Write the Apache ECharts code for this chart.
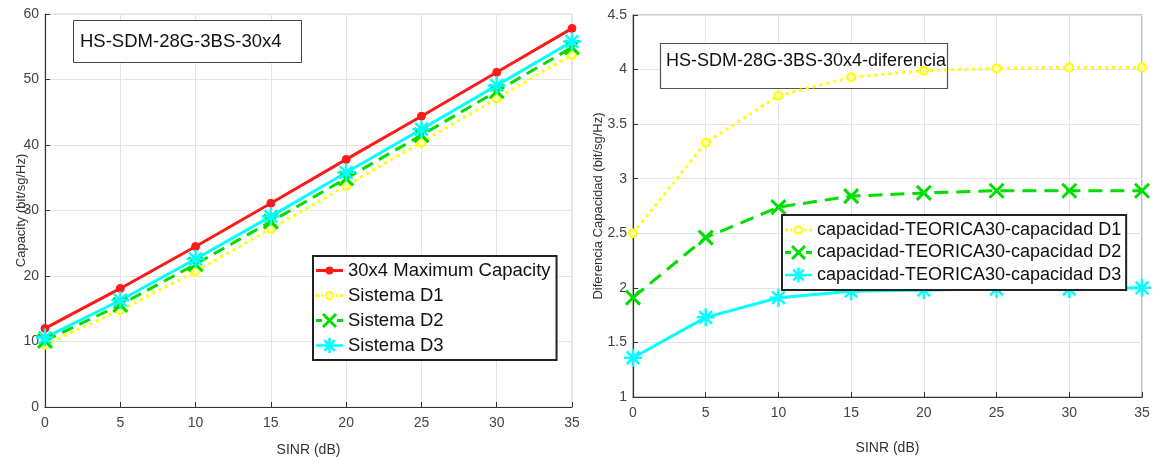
<!DOCTYPE html>
<html>
<head>
<meta charset="utf-8">
<script src="https://cdn.jsdelivr.net/npm/echarts@6/dist/echarts.min.js"></script>
<style>
html,body{margin:0;padding:0;background:#fff;}
#c{width:1155px;height:457px;}
</style>
</head>
<body>
<div id="c"></div>
<script>
// ---- data ----
var sinr = [0, 5, 10, 15, 20, 25, 30, 35];
var capMax = [12.0, 18.1, 24.5, 31.1, 37.8, 44.4, 51.1, 57.8];
var capD1 = [9.5, 14.8, 20.7, 27.2, 33.8, 40.4, 47.1, 53.8];
var capD2 = [10.1, 15.6, 21.8, 28.3, 34.9, 41.5, 48.2, 54.9];
var capD3 = [10.6, 16.3, 22.6, 29.1, 35.8, 42.4, 49.1, 55.8];
var difD1 = [2.50, 3.33, 3.76, 3.93, 3.99, 4.01, 4.02, 4.02];
var difD2 = [1.91, 2.46, 2.74, 2.84, 2.87, 2.89, 2.89, 2.89];
var difD3 = [1.36, 1.73, 1.91, 1.97, 1.98, 1.99, 1.99, 2.00];
var leftNames = ['30x4 Maximum Capacity', 'Sistema D1', 'Sistema D2', 'Sistema D3'];
var rightNames = ['capacidad-TEORICA30-capacidad D1', 'capacidad-TEORICA30-capacidad D2', 'capacidad-TEORICA30-capacidad D3'];
var leftTitle = 'HS-SDM-28G-3BS-30x4';
var rightTitle = 'HS-SDM-28G-3BS-30x4-diferencia';
var xName = 'SINR (dB)';
var leftYName = 'Capacity (bit/sg/Hz)';
var rightYName = 'Diferencia Capacidad (bit/sg/Hz)';

function pairs(ys) { return sinr.map(function (x, i) { return [x, ys[i]]; }); }

var FONT = '"Liberation Sans", Arial, sans-serif';
var RED = '#ff1a1a', YEL = '#ffff00', GRN = '#00dd00', CYA = '#00ffff';
var XSYM = 'path://M0,0L10,10M10,0L0,10';
var ASYM = 'path://M5,0L5,10M0,5L10,5M1.5,1.5L8.5,8.5M8.5,1.5L1.5,8.5';

// legend icons (line + marker), drawn as filled shapes in a 27x18 box
var IC_RED = 'path://M0,7.5H27V10.5H0Z M9.5,9A4,4 0 1,1 17.5,9A4,4 0 1,1 9.5,9Z';
var IC_YEL = 'path://M0,7.5h3v3h-3z M5.5,7.5h2v3h-2z M19.5,7.5h2v3h-2z M24,7.5h3v3h-3z ' +
             'M9,9A4.5,4.5 0 1,1 18,9A4.5,4.5 0 1,1 9,9Z M11,9A2.5,2.5 0 1,0 16,9A2.5,2.5 0 1,0 11,9Z';
var IC_GRN = 'path://M0,7.5h6v3h-6z M21,7.5h6v3h-6z ' +
             'M8.06,1.44L21.06,14.44L18.94,16.56L5.94,3.56Z M21.06,3.56L8.06,16.56L5.94,14.44L18.94,1.44Z';
var IC_CYA = 'path://M0,7.75H27V10.25H0Z M12.25,1.5h2.5v15h-2.5z ' +
             'M9.08,2.82L19.68,13.42L17.92,15.18L7.32,4.58Z M19.68,4.58L9.08,15.18L7.32,13.42L17.92,2.82Z';

function mk(name, data, xi, color, lineType, symbol, size, fill, bw) {
  return {
    name: name, type: 'line', xAxisIndex: xi, yAxisIndex: xi,
    data: pairs(data), symbol: symbol, symbolSize: size, showSymbol: true,
    animation: false, z: 3,
    lineStyle: { color: color, width: 3, type: lineType },
    itemStyle: { color: fill, borderColor: color, borderWidth: bw }
  };
}
function li(name, icon, color) {
  return { name: name, icon: icon, itemStyle: { color: color, borderWidth: 0, opacity: 1 } };
}

var axisCommon = function (min, max, interval, name, gap, fs) {
  return {
    type: 'value', min: min, max: max, interval: interval,
    name: name, nameLocation: 'middle', nameGap: gap, nameMoveOverlap: false,
    nameTextStyle: { fontFamily: FONT, fontSize: 14, color: '#333' },
    axisLine: { show: true, onZero: false, lineStyle: { color: '#333', width: 1.2 } },
    axisTick: { show: true, inside: true, length: 5, lineStyle: { color: '#333' } },
    axisLabel: { fontFamily: FONT, fontSize: fs, color: '#444', margin: 8 },
    splitLine: { show: true, lineStyle: { color: '#e4e4e4', width: 1 } }
  };
};

var xa0 = axisCommon(0, 35, 5, xName, 36, 14); xa0.gridIndex = 0; xa0.axisLabel.margin = 9;
var xa1 = axisCommon(0, 35, 5, xName, 44, 14); xa1.gridIndex = 1; xa1.axisLabel.margin = 9;
var ya0 = axisCommon(0, 60, 10, leftYName, 17, 14); ya0.gridIndex = 0; ya0.axisLabel.margin = 6;
var ya1 = axisCommon(1, 4.5, 0.5, rightYName, 28, 14); ya1.gridIndex = 1; ya1.axisLabel.margin = 6;
ya0.nameTextStyle.fontSize = 13;
ya1.nameTextStyle.fontSize = 13;

var option = {
  backgroundColor: '#fff',
  animation: false,
  grid: [
    { left: 45, top: 14, right: 583, bottom: 50, outerBoundsMode: 'none', containLabel: false,
      show: true, borderColor: '#d8d8d8', borderWidth: 1, backgroundColor: '#fff' },
    { left: 633, top: 15, right: 13, bottom: 60, outerBoundsMode: 'none', containLabel: false,
      show: true, borderColor: '#9a9a9a', borderWidth: 1.2, backgroundColor: '#fff' }
  ],
  xAxis: [xa0, xa1],
  yAxis: [ya0, ya1],
  legend: [
    {
      data: [li(leftNames[0], IC_RED, RED), li(leftNames[1], IC_YEL, YEL), li(leftNames[2], IC_GRN, GRN), li(leftNames[3], IC_CYA, CYA)],
      orient: 'vertical', left: 313, top: 256, z: 10,
      itemWidth: 27, itemHeight: 18, itemGap: 6, padding: [5, 6, 5, 3],
      backgroundColor: '#fff', borderColor: '#222', borderWidth: 2, borderRadius: 0,
      textStyle: { fontFamily: FONT, fontSize: 18.5, color: '#111' }
    },
    {
      data: [li(rightNames[0], IC_YEL, YEL), li(rightNames[1], IC_GRN, GRN), li(rightNames[2], IC_CYA, CYA)],
      orient: 'vertical', left: 782, top: 215, z: 10,
      itemWidth: 27, itemHeight: 18, itemGap: 4.5, padding: [6, 5, 6, 3],
      backgroundColor: '#fff', borderColor: '#222', borderWidth: 2, borderRadius: 0,
      textStyle: { fontFamily: FONT, fontSize: 18, color: '#111' }
    }
  ],
  graphic: [
    { type: 'rect', z: 1, shape: { x: 73.5, y: 20.5, width: 228, height: 42 },
      style: { fill: '#fff', stroke: '#444', lineWidth: 1 } },
    { type: 'text', z: 1, x: 80, y: 41.5,
      style: { text: leftTitle, font: '18.5px ' + FONT, fill: '#111', verticalAlign: 'middle' } },
    { type: 'rect', z: 1, shape: { x: 660.5, y: 43.5, width: 287, height: 45 },
      style: { fill: '#fff', stroke: '#555', lineWidth: 1.2 } },
    { type: 'text', z: 1, x: 666, y: 61,
      style: { text: rightTitle, font: '18px ' + FONT, fill: '#111', verticalAlign: 'middle' } }
  ],
  series: [
    mk(leftNames[0], capMax, 0, RED, 'solid', 'circle', 8, RED, 1),
    mk(leftNames[1], capD1, 0, YEL, [3, 4], 'circle', 8, '#ffffb0', 2),
    mk(leftNames[2], capD2, 0, GRN, [12, 7], XSYM, 14, 'rgba(0,0,0,0)', 3),
    mk(leftNames[3], capD3, 0, CYA, 'solid', ASYM, 18, 'rgba(0,0,0,0)', 2.5),
    mk(rightNames[0], difD1, 1, YEL, [3, 4], 'circle', 8, '#ffffb0', 2),
    mk(rightNames[1], difD2, 1, GRN, [14, 8], XSYM, 14, 'rgba(0,0,0,0)', 3),
    mk(rightNames[2], difD3, 1, CYA, 'solid', ASYM, 18, 'rgba(0,0,0,0)', 2.5)
  ]
};

var chart = echarts.init(document.getElementById('c'), null, { renderer: 'canvas' });
chart.setOption(option);
</script>
</body>
</html>
